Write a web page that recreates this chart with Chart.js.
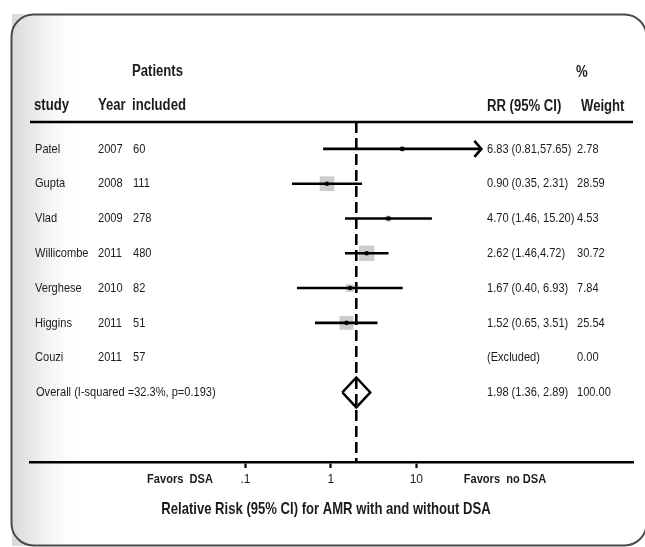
<!DOCTYPE html>
<html><head><meta charset="utf-8">
<script src="https://cdn.jsdelivr.net/npm/chart.js@4/dist/chart.umd.min.js"></script>
<style>html,body{margin:0;padding:0;background:#fff}#wrap{width:645px;height:547px;position:relative}</style>
</head><body><div id="wrap"><canvas id="c" width="645" height="547"></canvas></div>
<script>
// ---- data ----
const studies = ['Patel','Gupta','Vlad','Willicombe','Verghese','Higgins','Couzi'];
const years = ['2007','2008','2009','2011','2010','2011','2011'];
const patients = ['60','111','278','480','82','51','57'];
const rr = [6.83, 0.90, 4.70, 2.62, 1.67, 1.52, null];
const ciLow = [0.81, 0.35, 1.46, 1.46, 0.40, 0.65, null];
const ciHigh = [57.65, 2.31, 15.20, 4.72, 6.93, 3.51, null];
const weights = [2.78, 28.59, 4.53, 30.72, 7.84, 25.54, 0.00];
const rrLabels = ['6.83 (0.81,57.65)','0.90 (0.35, 2.31)','4.70 (1.46, 15.20)','2.62 (1.46,4.72)','1.67 (0.40, 6.93)','1.52 (0.65, 3.51)','(Excluded)'];
const weightLabels = ['2.78','28.59','4.53','30.72','7.84','25.54','0.00'];
const arrowRight = [true, false, false, false, false, false, false];
const overallLabel = 'Overall (I-squared =32.3%, p=0.193)';
const overallRR = 1.98, overallLow = 1.36, overallHigh = 2.89;
const overallRRLabel = '1.98 (1.36, 2.89)';
const overallWeightLabel = '100.00';
const xTicks = [0.1, 1, 10];
const xTickLabels = ['.1', '1', '10'];

// ---- style ----
const FONT = '"Liberation Sans",Arial,sans-serif';
const SQUEEZE = 0.82;
const TXT = '#1c1c1c';
const Y_MIN = -0.774, Y_MAX = 9.0;
const overallRow = studies.length;

const datasets = [];
// CI lines
studies.forEach((s, i) => {
  if (ciLow[i] == null) return;
  datasets.push({
    type: 'scatter', showLine: true, order: 3,
    data: [{x: ciLow[i], y: i}, {x: ciHigh[i], y: i}],
    borderColor: '#000', borderWidth: 2.6, pointRadius: 0
  });
});
// weight squares
datasets.push({
  type: 'scatter', order: 6,
  data: studies.map((s, i) => rr[i] == null ? null : {x: rr[i], y: i}).filter(d => d),
  pointStyle: 'rect',
  pointRadius: studies.map((s, i) => i).filter(i => rr[i] != null).map(i => 2.75 * Math.sqrt(weights[i]) / Math.SQRT2),
  backgroundColor: '#cccccc', borderWidth: 0
});
// point estimate dots
datasets.push({
  type: 'scatter', order: 1,
  data: studies.map((s, i) => rr[i] == null ? null : {x: rr[i], y: i}).filter(d => d),
  pointStyle: 'circle', pointRadius: 2.3, backgroundColor: '#000', borderWidth: 0
});
// overall dashed line
datasets.push({
  type: 'scatter', showLine: true, order: 4,
  data: [{x: overallRR, y: Y_MIN}, {x: overallRR, y: Y_MAX}],
  borderColor: '#000', borderWidth: 2.6, borderDash: [11, 5], pointRadius: 0
});
// overall diamond
const dh = 0.43;
datasets.push({
  type: 'scatter', showLine: true, order: 2,
  data: [{x: overallLow, y: overallRow}, {x: overallRR, y: overallRow - dh}, {x: overallHigh, y: overallRow},
         {x: overallRR, y: overallRow + dh}, {x: overallLow, y: overallRow}],
  borderColor: '#000', borderWidth: 2.4, pointRadius: 0, tension: 0, borderJoinStyle: 'miter'
});

function txt(ctx, s, x, y, sq) {
  ctx.save();
  ctx.translate(x, y);
  ctx.scale(sq || SQUEEZE, 1);
  ctx.fillText(s, 0, 0);
  ctx.restore();
}

const deco = {
  id: 'deco',
  beforeDraw(chart) {
    const ctx = chart.ctx;
    ctx.save();
    ctx.fillStyle = '#fff';
    ctx.fillRect(0, 0, chart.width, chart.height);
    const g = ctx.createLinearGradient(12, 0, 85, 0);
    g.addColorStop(0, 'rgba(170,170,170,0.45)');
    g.addColorStop(0.4, 'rgba(190,190,190,0.25)');
    g.addColorStop(1, 'rgba(255,255,255,0)');
    ctx.fillStyle = g;
    ctx.fillRect(12, 14, 73, 532);
    ctx.beginPath();
    ctx.roundRect(11.5, 14.5, 635, 531, 22);
    ctx.strokeStyle = '#4a4a4a';
    ctx.lineWidth = 2;
    ctx.stroke();
    ctx.restore();
  },
  afterDraw(chart) {
    const ctx = chart.ctx, xs = chart.scales.x, ys = chart.scales.y, ca = chart.chartArea;
    ctx.save();
    // header rule
    ctx.strokeStyle = '#000'; ctx.lineWidth = 2.6;
    ctx.beginPath(); ctx.moveTo(ca.left, ca.top); ctx.lineTo(ca.right, ca.top); ctx.stroke();
    // arrows
    studies.forEach((s, i) => {
      if (!arrowRight[i]) return;
      const px = xs.getPixelForValue(ciHigh[i]), py = ys.getPixelForValue(i);
      ctx.lineWidth = 2.6; ctx.lineJoin = 'miter';
      ctx.beginPath(); ctx.moveTo(px - 7, py - 8); ctx.lineTo(px, py); ctx.lineTo(px - 7, py + 8); ctx.stroke();
    });
    ctx.fillStyle = TXT;
    ctx.textBaseline = 'middle';
    ctx.textAlign = 'left';
    // headers
    ctx.font = 'bold 16px ' + FONT;
    txt(ctx, 'Patients', 132, 72);
    txt(ctx, '%', 576, 73);
    txt(ctx, 'study', 34, 106);
    txt(ctx, 'Year', 98, 106);
    txt(ctx, 'included', 132, 106);
    txt(ctx, 'RR (95% CI)', 487, 107);
    txt(ctx, 'Weight', 581, 107);
    // rows
    ctx.font = '13.5px ' + FONT;
    studies.forEach((s, i) => {
      const py = ys.getPixelForValue(i);
      txt(ctx, s, 35, py);
      txt(ctx, years[i], 98, py);
      txt(ctx, patients[i], 133, py);
      txt(ctx, rrLabels[i], 487, py);
      txt(ctx, weightLabels[i], 577, py);
    });
    const oy = ys.getPixelForValue(overallRow);
    txt(ctx, overallLabel, 36, oy);
    txt(ctx, overallRRLabel, 487, oy);
    txt(ctx, overallWeightLabel, 577, oy);
    // favors labels and title
    ctx.textAlign = 'center';
    ctx.font = 'bold 13.5px ' + FONT;
    txt(ctx, 'Favors  DSA', 180, 479);
    txt(ctx, 'Favors  no DSA', 505, 479);
    ctx.font = 'bold 17px ' + FONT;
    txt(ctx, 'Relative Risk (95% CI) for AMR with and without DSA', 326, 509, 0.77);
    ctx.restore();
  }
};

new Chart(document.getElementById('c'), {
  type: 'scatter',
  data: { datasets },
  options: {
    responsive: false, animation: false, devicePixelRatio: 1,
    layout: { padding: { left: 30, right: 12, top: 122, bottom: 0 } },
    plugins: { legend: { display: false }, tooltip: { enabled: false } },
    scales: {
      x: {
        type: 'logarithmic', min: Math.pow(10, -3.5), max: Math.pow(10, 3.536),
        afterBuildTicks: s => { s.ticks = xTicks.map(v => ({ value: v })); },
        afterFit: s => { s.height = 85; },
        ticks: { autoSkip: false, maxRotation: 0, color: TXT, padding: 4,
                 font: { family: FONT, size: 12 },
                 callback: (v, i) => xTickLabels[i] },
        grid: { display: true, drawOnChartArea: false, drawTicks: true, tickLength: 6, tickWidth: 2.2, tickColor: '#000' },
        border: { display: true, color: '#000', width: 2.6 }
      },
      y: { type: 'linear', display: false, reverse: true, min: Y_MIN, max: Y_MAX }
    }
  },
  plugins: [deco]
});
</script>
</body></html>
